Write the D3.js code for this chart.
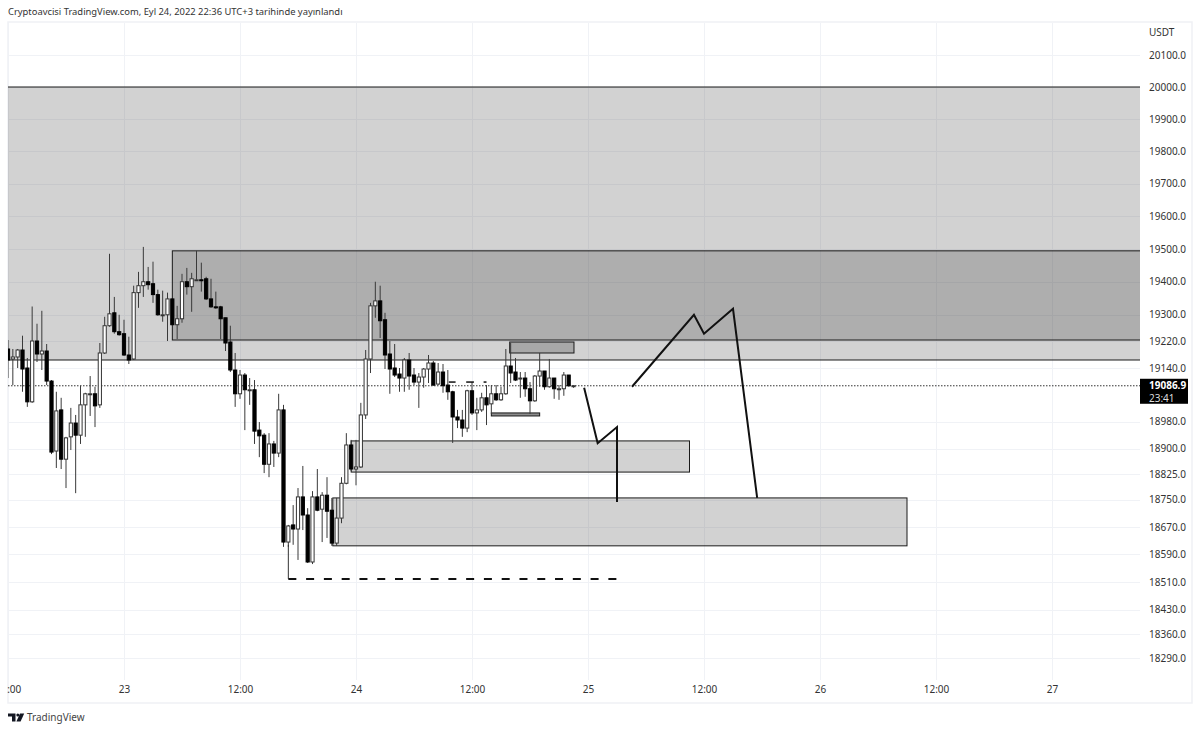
<!DOCTYPE html>
<html lang="tr">
<head>
<meta charset="UTF-8">
<title>BTCUSDT</title>
<script src="https://cdn.jsdelivr.net/npm/d3@7"></script>
<style>
    html, body { margin: 0; padding: 0; background: #fff; overflow: hidden; }
    text { font-family: "Noto Sans", sans-serif; }
</style>
</head>
<body>
<svg id="chart" width="1200" height="732"></svg>
<script>
// 30 min candles, first one on Sep 22 12:00
const opens = [19197,19167,19173,19194,19140,19039,19221,19182,19191,19101,18893,19015,18869,18935,18976,18940,19030,19063,19063,19030,
    19185,19267,19306,19249,19243,19179,19167,19367,19388,19400,19394,19361,19300,19300,19348,19270,19288,19400,19385,19406,
    19406,19409,19348,19324,19324,19291,19218,19134,19063,19119,19075,19075,18955,18940,18854,18914,18887,19015,18626,18676,
    18664,18758,18705,18568,18758,18722,18763,18719,18623,18696,18798,18911,18840,18846,19000,19167,19327,19342,19285,19182,
    19140,19122,19110,19164,19119,19098,19113,19137,19155,19092,19128,19089,19069,18994,18985,18961,19072,19006,19015,19051,
    19033,19063,19045,19063,19146,19128,19110,19110,19078,19042,19116,19131,19084,19110,19078,19078,19119,19087];
const closes = [19164,19173,19194,19137,19039,19221,19182,19191,19101,18890,19012,18869,18932,18976,18940,19030,19063,19063,19027,19185,
    19267,19303,19249,19240,19179,19164,19367,19388,19400,19391,19361,19300,19300,19348,19270,19288,19400,19385,19409,19406,
    19403,19348,19324,19321,19288,19215,19134,19063,19119,19075,19075,18952,18938,18854,18914,18887,19015,18626,18673,18664,
    18758,18705,18568,18758,18719,18763,18716,18623,18696,18798,18911,18840,18846,19000,19167,19327,19342,19282,19179,19137,
    19119,19110,19164,19116,19098,19113,19137,19155,19089,19128,19087,19069,18994,18985,18961,19072,19006,19015,19051,19030,
    19063,19045,19063,19146,19125,19104,19110,19078,19042,19116,19131,19084,19110,19078,19078,19119,19087,19087];
const highs = [19224,19197,19197,19237,19170,19325,19273,19312,19212,19104,19069,19051,18935,19021,19000,19087,19066,19116,19084,19215,
    19294,19485,19354,19300,19285,19234,19388,19430,19506,19445,19461,19376,19373,19367,19351,19327,19424,19442,19427,19494,
    19458,19415,19409,19370,19327,19291,19267,19185,19134,19125,19110,19104,18979,18946,18946,18923,19063,19030,18676,18734,
    18784,18849,18725,18775,18840,18772,18816,18755,18755,18816,18946,18926,18926,19036,19194,19336,19400,19388,19306,19221,
    19212,19140,19170,19185,19140,19125,19140,19179,19161,19155,19152,19134,19072,19015,19015,19075,19098,19051,19066,19089,
    19089,19089,19084,19197,19215,19170,19128,19128,19098,19119,19185,19131,19167,19110,19089,19128,19119,19089];
const lows = [19110,19089,19140,19069,19024,19036,19158,19134,19089,18884,18843,18840,18784,18896,18769,18914,18935,18997,18964,19021,
    19182,19264,19243,19237,19176,19152,19164,19321,19354,19376,19336,19297,19279,19221,19267,19227,19276,19361,19309,19403,
    19370,19345,19321,19318,19227,19191,19128,19024,19048,18955,19030,18914,18875,18828,18816,18846,18875,18612,18612,18618,
    18574,18661,18565,18562,18716,18626,18638,18615,18615,18681,18795,18834,18792,18843,18988,19125,19291,19230,19137,19063,
    19113,19069,19069,19075,19089,19021,19081,19095,19087,19089,19066,19045,18917,18961,18935,18949,19000,18955,19009,18970,
    19003,19042,19042,19060,19095,19101,19051,19054,19003,19039,19084,19075,19081,19048,19045,19057,19084,19081];

const priceTicks = [20100,20000,19900,19800,19700,19600,19500,19400,19300,19220,19140,18980,18900,18825,18750,18670,18590,18510,18430,18360,18290];
const timeTickHours = [-12,0,12,24,36,48,60,72,84,96];
const timeTickLabels = ["12:00","23","12:00","24","12:00","25","12:00","26","12:00","27"];
const lastPrice = 19086.9;
const lastPriceTimer = "23:41";

// drawings: hours from Sep 23 00:00 and prices
const zoneHours = [[-16,112],[5,112],[39.9,46.55],[23.5,58.5],[21.6,81],[38,43]];
const zonePrices = [[20000,19164],[19494,19224],[19218,19185],[18923,18831],[18755,18615],[19006,18997]];
const pathDownHours = [47.6,49,51,51];
const pathDownPrices = [19081,18916,18964,18743];
const pathUpHours = [52.55,58.96,60,63,65.5];
const pathUpPrices = [19084,19300,19243,19318,18755];
const lowStemHours = [17,17];
const lowStemPrices = [18618,18519];
const lowDashHours = [17,51];
const lowDashPrices = [18519,18519];
const smallDashHours = [[33.6,34.3],[35.4,36.2],[37.2,37.5]];
const smallDashPrice = 19098;

const paneLeft = 8, paneRight = 1140, paneTop = 23, paneBottom = 680;
const svg = d3.select("#chart");
const startDay = Date.UTC(2022, 8, 23);
const hourDate = h => new Date(startDay + h * 3600000);

const x = d3.scaleUtc().domain([hourDate(0), hourDate(96)]).range([124, 1052]);
const y = d3.scaleLog().domain([20000, 18510]).range([87, 582]);

svg.append("defs").append("clipPath").attr("id", "pane")
    .append("rect").attr("x", paneLeft).attr("y", paneTop)
    .attr("width", paneRight - paneLeft).attr("height", paneBottom - paneTop);
svg.select("defs").append("clipPath").attr("id", "timeClip")
    .append("rect").attr("x", 7).attr("y", paneBottom)
    .attr("width", 1130).attr("height", 22);

// title and outer frame
svg.append("text").attr("x", 8).attr("y", 15).attr("font-size", 9.4).attr("fill", "#333")
    .text("Cryptoavcisi TradingView.com, Eyl 24, 2022 22:36 UTC+3 tarihinde yayınlandı");
svg.append("rect").attr("x", 8).attr("y", 22).attr("width", 1184).attr("height", 681)
    .attr("fill", "none").attr("stroke", "#eff1f5").attr("stroke-width", 1.5);

// grid
const grid = svg.append("g").attr("stroke", "#f0f2f6").attr("stroke-width", 1);
grid.selectAll(".gy").data(priceTicks).join("line")
    .attr("x1", paneLeft).attr("x2", paneRight)
    .attr("y1", d => Math.round(y(d)) + .5).attr("y2", d => Math.round(y(d)) + .5);
grid.selectAll(".gx").data(timeTickHours).join("line")
    .attr("y1", paneTop).attr("y2", paneBottom)
    .attr("x1", d => Math.round(x(hourDate(d))) + .5).attr("x2", d => Math.round(x(hourDate(d))) + .5);

const plot = svg.append("g").attr("clip-path", "url(#pane)");

// boxes, the later ones on top
const zoneFill = ["rgba(90,90,90,.27)","rgba(0,0,0,.17)","rgba(0,0,0,.2)","rgba(90,90,90,.27)","rgba(90,90,90,.27)","rgba(0,0,0,.45)"];
plot.selectAll(".zone").data(zoneHours).join("rect")
    .attr("x", d => x(hourDate(d[0])))
    .attr("width", d => x(hourDate(d[1])) - x(hourDate(d[0])))
    .attr("y", (d, i) => y(zonePrices[i][0]))
    .attr("height", (d, i) => y(zonePrices[i][1]) - y(zonePrices[i][0]))
    .attr("fill", (d, i) => zoneFill[i])
    .attr("stroke", "#1a1a1a").attr("stroke-width", 1);

// last price dotted line
plot.append("line").attr("x1", paneLeft).attr("x2", paneRight)
    .attr("y1", y(lastPrice)).attr("y2", y(lastPrice))
    .attr("stroke", "#333").attr("stroke-width", 1).attr("stroke-dasharray", "1.5 1.5");

// candles
const candleTime = i => hourDate(-12 + i * 0.5);
const candles = plot.selectAll(".candle").data(opens).join("g");
candles.append("line")
    .attr("x1", (d, i) => x(candleTime(i))).attr("x2", (d, i) => x(candleTime(i)))
    .attr("y1", (d, i) => y(highs[i])).attr("y2", (d, i) => y(lows[i]))
    .attr("stroke", "#3a3a3a").attr("stroke-width", 1);
candles.append("rect")
    .attr("x", (d, i) => x(candleTime(i)) - 1.6).attr("width", 3.2)
    .attr("y", (d, i) => Math.min(y(d), y(closes[i])))
    .attr("height", (d, i) => Math.max(1, Math.abs(y(d) - y(closes[i]))))
    .attr("fill", (d, i) => closes[i] >= d ? "#fff" : "#000")
    .attr("stroke", (d, i) => closes[i] >= d ? "#333" : "#000").attr("stroke-width", 1);

// hand drawn lines
const drawLine = d3.line().x(d => x(hourDate(d[0]))).y(d => y(d[1]));
plot.append("path").attr("d", drawLine(d3.zip(pathDownHours, pathDownPrices)))
    .attr("fill", "none").attr("stroke", "#111").attr("stroke-width", 2);
plot.append("path").attr("d", drawLine(d3.zip(pathUpHours, pathUpPrices)))
    .attr("fill", "none").attr("stroke", "#111").attr("stroke-width", 2);
plot.append("path").attr("d", drawLine(d3.zip(lowStemHours, lowStemPrices)))
    .attr("fill", "none").attr("stroke", "#333").attr("stroke-width", 1);
plot.append("path").attr("d", drawLine(d3.zip(lowDashHours, lowDashPrices)))
    .attr("fill", "none").attr("stroke", "#111").attr("stroke-width", 2).attr("stroke-dasharray", "8 9.78");
plot.selectAll(".sd").data(smallDashHours).join("line")
    .attr("x1", d => x(hourDate(d[0]))).attr("x2", d => x(hourDate(d[1])))
    .attr("y1", y(smallDashPrice)).attr("y2", y(smallDashPrice))
    .attr("stroke", "#111").attr("stroke-width", 1.5);

// axes
const yAxis = d3.axisRight(y).tickValues(priceTicks).tickFormat(d3.format(".1f")).tickSize(0).tickPadding(0);
const gy = svg.append("g").attr("transform", "translate(1149,0)").call(yAxis);
gy.select(".domain").remove();
gy.selectAll("text").attr("font-size", 10).attr("fill", "#333").attr("font-family", '"Noto Sans", sans-serif');

const xAxis = d3.axisBottom(x).tickValues(timeTickHours.map(hourDate))
    .tickFormat((d, i) => timeTickLabels[i]).tickSize(0).tickPadding(0);
const gx = svg.append("g").attr("clip-path", "url(#timeClip)")
    .append("g").attr("transform", "translate(0,686)").call(xAxis);
gx.select(".domain").remove();
gx.selectAll("text").attr("font-size", 10).attr("fill", "#333").attr("font-family", '"Noto Sans", sans-serif');

svg.append("text").attr("x", 1149).attr("y", 36).attr("font-size", 10).attr("fill", "#333").text("USDT");

// last price tag
svg.append("rect").attr("x", 1140).attr("y", y(lastPrice) - 7).attr("width", 48).attr("height", 25).attr("fill", "#000");
svg.append("text").attr("x", 1149).attr("y", y(lastPrice) + 3.5).attr("font-size", 10).attr("font-weight", 700).attr("fill", "#fff").text(lastPrice.toFixed(1));
svg.append("text").attr("x", 1149).attr("y", y(lastPrice) + 16).attr("font-size", 10).attr("fill", "#ddd").text(lastPriceTimer);

// footer logo
const logo = svg.append("g").attr("fill", "#131722");
logo.append("path").attr("d", "M8 713.5h7.5v8h-3.5v-5h-4z");
logo.append("circle").attr("cx", 17.8).attr("cy", 715).attr("r", 1.5);
logo.append("path").attr("d", "M20 713.5h4.2l-3.6 8h-4.2z");
svg.append("text").attr("x", 27).attr("y", 721).attr("font-size", 10).attr("fill", "#444").text("TradingView");
</script>
</body>
</html>
